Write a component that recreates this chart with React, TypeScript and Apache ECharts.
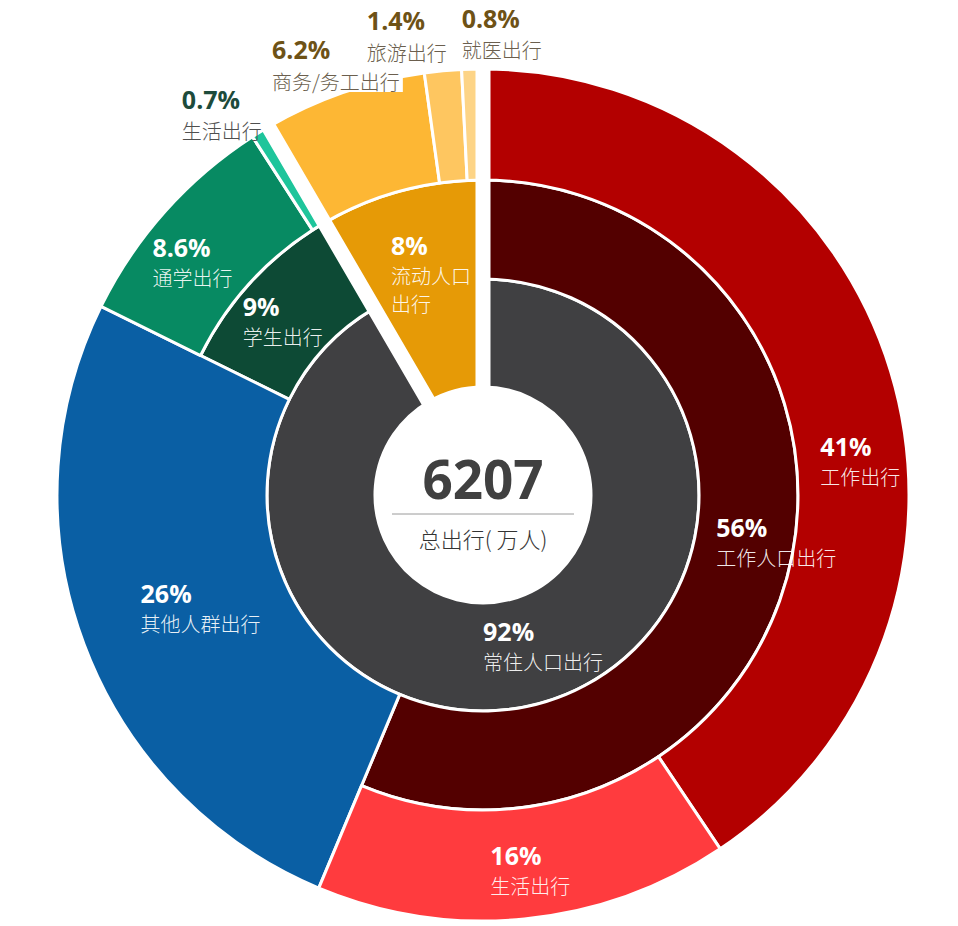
import React, { useEffect, useRef } from 'react';
import * as echarts from 'echarts';

// ---------- data ----------
const innerNames = ['常住人口出行', '流动人口出行'];
const innerValues = [91.6, 8.4];
const middleNames = ['工作人口出行', '其他人群出行', '学生出行', '流动人口出行'];
const middleValues = [56.3, 26, 9.3, 8.4];
const outerNames = ['工作出行', '生活出行', '其他人群出行', '通学出行', '生活出行', '商务/务工出行', '旅游出行', '就医出行'];
const outerValues = [40.6, 15.7, 26, 8.6, 0.7, 6.2, 1.4, 0.8];
const totalTrips = 6207;
const totalLabel = '总出行( 万人)';

// ---------- styles ----------
const CENTER: [number, number] = [483, 495];
const R_HOLE = 108;
const R_INNER = 216;
const R_MIDDLE = 315;
const R_OUTER = 426;

const innerColors = ['#404042', '#E69A06'];
const middleColors = ['#530000', '#0A5FA4', '#0D4A35', '#E69A06'];
const outerColors = ['#B30000', '#FF3B3E', '#0A5FA4', '#078A62', '#1EC59B', '#FDB734', '#FEC660', '#FDD486'];

const PF = "'Open Sans', 'Noto Sans', 'DejaVu Sans', sans-serif";
const CF = "'Noto Sans CJK SC', 'Noto Sans', sans-serif";
const CLEAR = 'rgba(0,0,0,0)';

type Tone = 'light' | 'green' | 'gold';
interface Layer {
  names: string[];
  values: number[];
  colors: string[];
  radius: [number, number];
  show: number[];
  oneDecimalUnder10: boolean;
  nudge: Record<number, [number, number]>;
  tone?: Record<number, Tone>;
  boxed?: number[];
}

const layers: Layer[] = [
  { names: innerNames, values: innerValues, colors: innerColors, radius: [R_HOLE, R_INNER], show: [0], oneDecimalUnder10: false, nudge: { 0: [17, -9] } },
  { names: innerNames, values: innerValues, colors: innerColors, radius: [R_HOLE, R_MIDDLE], show: [1], oneDecimalUnder10: false, nudge: { 1: [4, -15] } },
  { names: middleNames, values: middleValues, colors: middleColors, radius: [R_INNER, R_MIDDLE], show: [0, 2], oneDecimalUnder10: false, nudge: { 0: [30, -7], 2: [-4, 8] } },
  { names: middleNames, values: middleValues, colors: middleColors, radius: [R_INNER, R_OUTER], show: [1], oneDecimalUnder10: false, nudge: { 1: [21, -2] } },
  {
    names: outerNames, values: outerValues, colors: outerColors, radius: [R_MIDDLE, R_OUTER], show: [0, 1, 3, 4, 5, 6, 7], oneDecimalUnder10: true,
    nudge: { 0: [20, 74], 1: [11, 2], 3: [-12, 15], 4: [-66, -63], 5: [-25, -78], 6: [-41, -88], 7: [28, -89] },
    tone: { 4: 'green', 5: 'gold', 6: 'gold', 7: 'gold' },
    boxed: [5],
  },
];

const pct = (v: number, dec: boolean) => (dec && v < 10 ? v.toFixed(1) : String(Math.round(v))) + '%';
const displayName = (n: string) => (n === '流动人口出行' ? '流动人口\n出行' : n);

const pStyle = (color: string, lh: number) => ({ fontFamily: PF, fontWeight: 'bold', fontSize: 25, lineHeight: lh, color, align: 'left' });
const nStyle = (color: string, lh: number) => ({ fontFamily: CF, fontWeight: 300, fontSize: 20, lineHeight: lh, color, align: 'left' });
const rich = {
  p_light: pStyle('#ffffff', 33),
  n_light: nStyle('rgba(255,255,255,0.92)', 28),
  p_green: pStyle('#1D4B3B', 26),
  n_green: nStyle('#4F4F4F', 22),
  p_gold: pStyle('#6E5216', 26),
  n_gold: nStyle('#6B5F4E', 22),
  s: { lineHeight: 8, fontSize: 8 },
};

const baseSeries = (radius: [number, number]) => ({
  type: 'pie',
  center: CENTER,
  radius,
  startAngle: 90,
  clockwise: true,
  silent: true,
  avoidLabelOverlap: false,
  emphasis: { disabled: true },
  labelLine: { show: false },
});

const sliceSeries = (layer: Layer) => ({
  ...baseSeries(layer.radius),
  label: { show: false },
  data: layer.values.map((v, i) => ({
    value: v,
    name: layer.names[i],
    itemStyle: layer.show.includes(i)
      ? { color: layer.colors[i], borderColor: '#ffffff', borderWidth: 3 }
      : { color: CLEAR, borderWidth: 0 },
  })),
});

const labelSeries = (layer: Layer) => ({
  ...baseSeries(layer.radius),
  label: {
    show: true,
    position: 'inside',
    rich,
    formatter: (p: any) => {
      const tone = (layer.tone && layer.tone[p.dataIndex]) || 'light';
      const lines = displayName(p.name).split('\n').map((s) => `{n_${tone}|${s}}`).join('\n');
      const spacer = tone === 'light' ? '' : '{s| }\n';
      return `{p_${tone}|${pct(p.value, layer.oneDecimalUnder10)}}\n${spacer}${lines}`;
    },
  },
  labelLayout: (params: any) => {
    const n = layer.nudge[params.dataIndex];
    return n ? { dx: n[0], dy: n[1] } : {};
  },
  data: layer.values.map((v, i) => ({
    value: v,
    name: layer.names[i],
    itemStyle: { color: CLEAR, borderWidth: 0 },
    label: layer.show.includes(i)
      ? (layer.boxed && layer.boxed.includes(i) ? { show: true, backgroundColor: '#ffffff', padding: [0, 3] } : { show: true })
      : { show: false },
  })),
});

// white gap around the floating-population wedge
const gapSeries = {
  ...baseSeries([60, R_OUTER + 8]),
  label: { show: false },
  data: innerValues.map((v, i) => ({
    value: v,
    name: innerNames[i],
    itemStyle: i === 1
      ? { color: CLEAR, borderColor: '#ffffff', borderWidth: 15 }
      : { color: CLEAR, borderWidth: 0 },
  })),
};

const centerSeries = {
  ...baseSeries([0, R_HOLE - 6]),
  data: [{ value: totalTrips, name: totalLabel, itemStyle: { color: CLEAR, borderWidth: 0 } }],
  label: {
    show: true,
    position: 'center',
    padding: [14, 0, 0, 0],
    formatter: (p: any) => `{v|${p.value}}\n{hr|}\n{t|${p.name}}`,
    rich: {
      v: { fontFamily: PF, fontWeight: 'bold', fontSize: 53, lineHeight: 68, color: '#404040', align: 'center' },
      hr: { width: 182, height: 0, borderColor: '#b0b0b0', borderWidth: 0.8, lineHeight: 4, align: 'center' },
      t: { fontFamily: CF, fontWeight: 300, fontSize: 22, lineHeight: 44, color: '#333333', align: 'center' },
    },
  },
};

export default function App() {
  const ref = useRef<HTMLDivElement>(null);
  useEffect(() => {
    if (!ref.current) return;
    const chart = echarts.init(ref.current, null, { renderer: 'svg' });
    chart.setOption({
      animation: false,
      backgroundColor: '#ffffff',
      series: [
        ...layers.map(sliceSeries),
        gapSeries,
        ...layers.map(labelSeries),
        centerSeries,
      ],
    });
    return () => chart.dispose();
  }, []);
  return <div ref={ref} style={{ position: 'absolute', left: 0, top: 0, width: 958, height: 926 }} />;
}
